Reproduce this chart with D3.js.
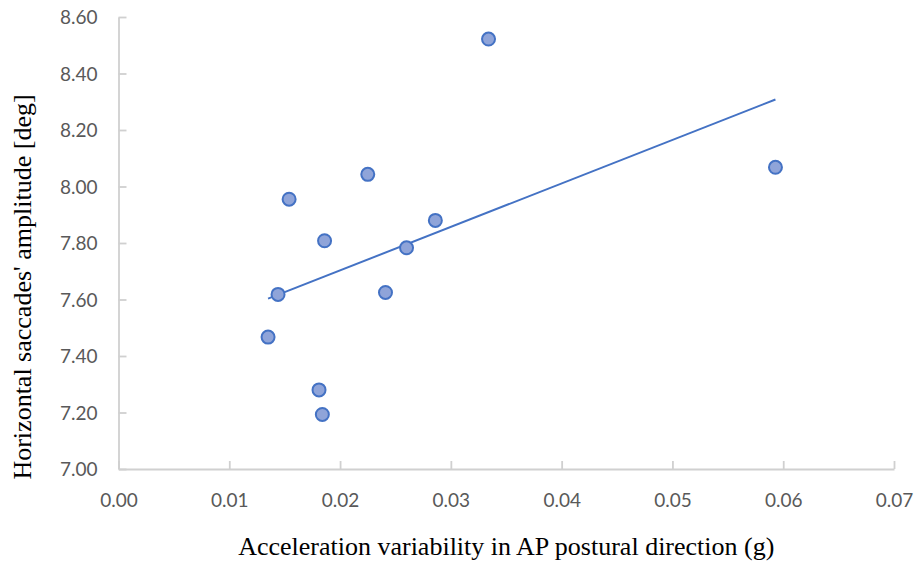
<!DOCTYPE html>
<html>
<head>
<meta charset="utf-8">
<script src="https://cdn.jsdelivr.net/npm/d3@7"></script>
<style>
  body { margin: 0; background: #fff; }
  svg { display: block; }
</style>
</head>
<body>
<svg id="chart" width="920" height="567"></svg>
<script>
// data
var accelVar = [0.0334, 0.0154, 0.0225, 0.0186, 0.0286, 0.0260, 0.0144, 0.0241, 0.0135, 0.0181, 0.0184, 0.0593];
var saccAmp = [8.522, 7.955, 8.043, 7.808, 7.880, 7.783, 7.618, 7.625, 7.467, 7.280, 7.193, 8.068];
var xTicks = [0, 0.01, 0.02, 0.03, 0.04, 0.05, 0.06, 0.07];
var yTicks = [7.0, 7.2, 7.4, 7.6, 7.8, 8.0, 8.2, 8.4, 8.6];
var xTitle = "Acceleration variability in AP postural direction (g)";
var yTitle = "Horizontal saccades' amplitude [deg]";

var svg = d3.select("#chart");
var margin = {left: 118.5, right: 26, top: 17, bottom: 98};
var W = 920, H = 567;

var x = d3.scaleLinear().domain([0, 0.07]).range([margin.left, W - margin.right]);
var y = d3.scaleLinear().domain([7, 8.6]).range([H - margin.bottom, margin.top]);

var axisColor = "#d0d0d0";
var labelFont = "Lato, 'Open Sans', sans-serif";
var titleFont = "'Liberation Serif', 'Times New Roman', serif";

// x axis, ticks pointing inside
var gx = svg.append("g")
    .attr("transform", "translate(0," + y(7) + ")")
    .call(d3.axisTop(x).tickValues(xTicks).tickSize(8).tickSizeOuter(0).tickFormat(d3.format(".2f")));
gx.select(".domain").attr("stroke", axisColor).attr("stroke-width", 1.8);
gx.selectAll(".tick line").attr("stroke", axisColor).attr("stroke-width", 1.8);
gx.selectAll(".tick text")
    .attr("y", 38)
    .attr("fill", "#595959")
    .style("font-family", labelFont)
    .style("font-size", "19px");

// y axis, ticks pointing inside
var gy = svg.append("g")
    .attr("transform", "translate(" + x(0) + ",0)")
    .call(d3.axisRight(y).tickValues(yTicks).tickSize(8).tickSizeOuter(0).tickFormat(d3.format(".2f")));
gy.select(".domain").attr("stroke", axisColor).attr("stroke-width", 1.8);
gy.selectAll(".tick line").attr("stroke", axisColor).attr("stroke-width", 1.8);
gy.selectAll(".tick text")
    .attr("x", -21)
    .attr("dy", "0.36em")
    .attr("text-anchor", "end")
    .attr("fill", "#595959")
    .style("font-family", labelFont)
    .style("font-size", "19px");
gx.attr("font-family", null).attr("font-size", null);
gy.attr("font-family", null).attr("font-size", null);

// linear trendline from least squares
var mx = d3.mean(accelVar), my = d3.mean(saccAmp);
var sxy = d3.sum(accelVar, function(v, i) { return (v - mx) * (saccAmp[i] - my); });
var sxx = d3.sum(accelVar, function(v) { return (v - mx) * (v - mx); });
var slope = sxy / sxx, icpt = my - slope * mx;
var xr = d3.extent(accelVar);

svg.append("path")
    .datum(xr)
    .attr("d", d3.line().x(function(d) { return x(d); }).y(function(d) { return y(icpt + slope * d); }))
    .attr("fill", "none")
    .attr("stroke", "#4472c4")
    .attr("stroke-width", 2);

// points
svg.append("g").selectAll("circle")
    .data(accelVar)
    .enter().append("circle")
    .attr("cx", function(d) { return x(d); })
    .attr("cy", function(d, i) { return y(saccAmp[i]); })
    .attr("r", 6.5)
    .attr("fill", "#8fa4d9")
    .attr("stroke", "#4472c4")
    .attr("stroke-width", 2);

// axis titles
svg.append("text")
    .attr("x", (x(0) + x(0.07)) / 2)
    .attr("y", 555)
    .attr("text-anchor", "middle")
    .style("font-family", titleFont)
    .style("font-size", "26px")
    .attr("fill", "#000")
    .text(xTitle);

svg.append("text")
    .attr("transform", "translate(31,287) rotate(-90)")
    .attr("text-anchor", "middle")
    .style("font-family", titleFont)
    .style("font-size", "26px")
    .attr("fill", "#000")
    .text(yTitle);
</script>
</body>
</html>
